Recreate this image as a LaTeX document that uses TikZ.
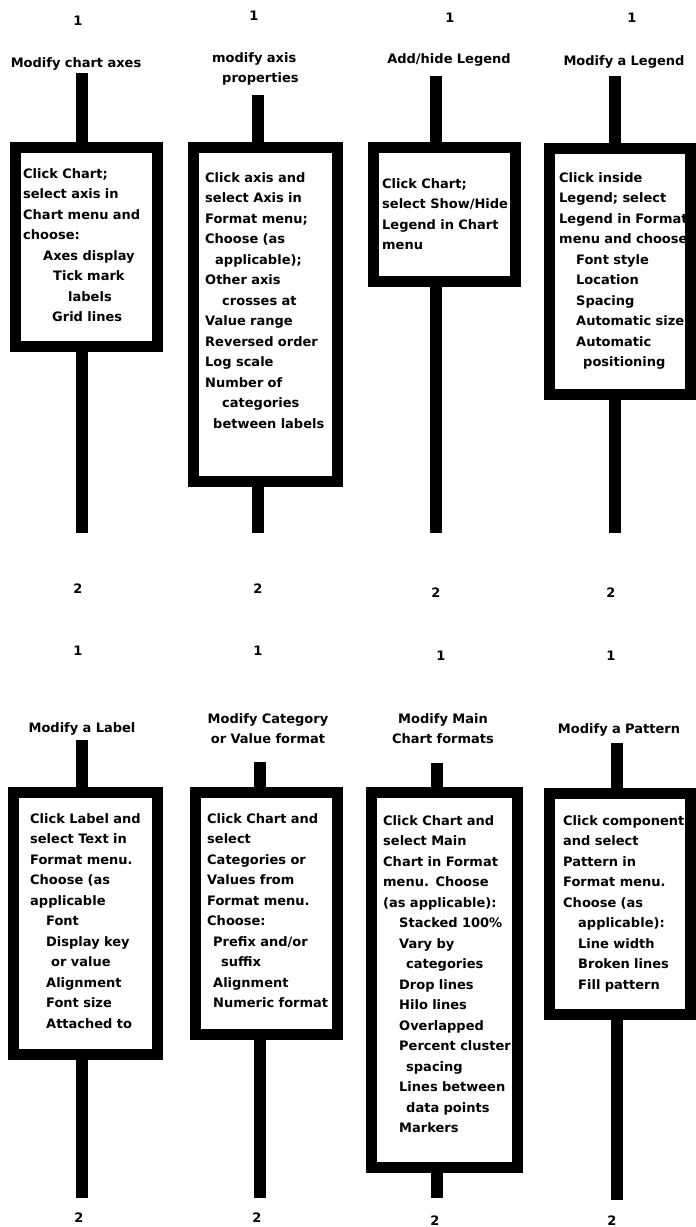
\documentclass[tikz,border=0pt]{standalone}
\usepackage{fontspec}
\setmainfont{DejaVu Sans}
\begin{document}
\begin{tikzpicture}[x=1pt,y=-1pt,
  frame/.style={draw=black, line width=11pt, fill=white, inner sep=0pt},
  stem/.style={line width=12pt, line cap=butt},
  body/.style={anchor=base west, inner sep=0pt, text width=170pt, align=left, font=\bfseries\fontsize{13}{20.5}\selectfont},
  title/.style={anchor=base, inner sep=0pt, text width=180pt, align=center, font=\bfseries\fontsize{13}{20.5}\selectfont},
  titleL/.style={anchor=base west, inner sep=0pt, text width=180pt, align=left, font=\bfseries\fontsize{13}{20.5}\selectfont},
  num/.style={anchor=base, inner sep=0pt, font=\bfseries\fontsize{13}{15}\selectfont}]
\useasboundingbox[fill=white] (0,0) rectangle (696,1227);

% ---------- stem end coordinates ----------
\coordinate (s1t) at (82,73);   \coordinate (s1b) at (82,533);
\coordinate (s2t) at (258,95);  \coordinate (s2b) at (258,533);
\coordinate (s3t) at (436,76);  \coordinate (s3b) at (436,533);
\coordinate (s4t) at (615,76);  \coordinate (s4b) at (615,533);
\coordinate (s5t) at (82,740);  \coordinate (s5b) at (82,1198);
\coordinate (s6t) at (260,762); \coordinate (s6b) at (260,1198);
\coordinate (s7t) at (437,763); \coordinate (s7b) at (437,1198);
\coordinate (s8t) at (617,743); \coordinate (s8b) at (617,1200);

% ---------- boxes ----------
\node[frame, minimum width=142pt, minimum height=199pt] (b1) at (86.5,247) {};
\node[frame, minimum width=144pt, minimum height=334pt] (b2) at (265.5,314.5) {};
\node[frame, minimum width=142pt, minimum height=134pt] (b3) at (444.5,214.5) {};
\node[frame, minimum width=141pt, minimum height=246pt] (b4) at (620,271.5) {};
\node[frame, minimum width=144pt, minimum height=262pt] (b5) at (85.5,923.5) {};
\node[frame, minimum width=142pt, minimum height=242pt] (b6) at (266.5,913.5) {};
\node[frame, minimum width=146pt, minimum height=375pt] (b7) at (444.5,980) {};
\node[frame, minimum width=141pt, minimum height=221pt] (b8) at (620,904) {};

% ---------- stems ----------
\foreach \i in {1,...,8}{
  \draw[stem] (s\i t) -- (s\i t |- b\i.north);
  \draw[stem] (s\i t |- b\i.south) -- (s\i b);
}

% ---------- numbers ----------
\node[num] (o1) at (78,25) {1};
\node[num] (o2) at (254,20) {1};
\node[num] (o3) at (450,22) {1};
\node[num] (o4) at (632,22) {1};
\node[num] (w1) at (78,593) {2};
\node[num] (w2) at (258,593) {2};
\node[num] (w3) at (436,597) {2};
\node[num] (w4) at (611,597) {2};
\node[num] (o5) at (78,655) {1};
\node[num] (o6) at (258,655) {1};
\node[num] (o7) at (441,660) {1};
\node[num] (o8) at (611,660) {1};
\node[num] (w5) at (79,1222) {2};
\node[num] (w6) at (257,1222) {2};
\node[num] (w7) at (435,1225) {2};
\node[num] (w8) at (612,1225) {2};

% ---------- titles ----------
\node[title] (t1) at (76,67) {Modify chart axes};
\node[titleL] (t2) at (212,62) {modify axis\\\hspace*{10pt}properties};
\node[title] (t3) at (449,63) {Add/hide Legend};
\node[title] (t4) at (624,65) {Modify a Legend};
\node[title] (t5) at (82,732) {Modify a Label};
\node[title] (t6) at (268,723) {Modify Category\\or Value format};
\node[title] (t7) at (443,723) {Modify Main\\Chart formats};
\node[title] (t8) at (619,733) {Modify a Pattern};

% ---------- box texts ----------
\node[body] (x1) at (23,178) {Click Chart;\\select axis in\\Chart menu and\\choose:\\
\hspace*{20pt}Axes display\\\hspace*{30pt}Tick mark\\\hspace*{45pt}labels\\\hspace*{29pt}Grid lines};

\node[body] (x2) at (205,182) {Click axis and\\select Axis in\\Format menu;\\Choose (as\\
\hspace*{10pt}applicable);\\Other axis\\\hspace*{17pt}crosses at\\Value range\\Reversed order\\Log scale\\Number of\\
\hspace*{17pt}categories\\\hspace*{8pt}between labels};

\node[body] (x3) at (382,188) {Click Chart;\\select Show/Hide\\Legend in Chart\\menu};

\node[body] (x4) at (559,182) {Click inside\\Legend; select\\Legend in Format\\menu and choose:\\
\hspace*{17pt}Font style\\\hspace*{17pt}Location\\\hspace*{17pt}Spacing\\\hspace*{17pt}Automatic size\\
\hspace*{17pt}Automatic\\\hspace*{24pt}positioning};

\node[body] (x5) at (30,823) {Click Label and\\select Text in\\Format menu.\\Choose (as\\applicable\\
\hspace*{16pt}Font\\\hspace*{16pt}Display key\\\hspace*{21pt}or value\\\hspace*{16pt}Alignment\\
\hspace*{16pt}Font size\\\hspace*{16pt}Attached to};

\node[body] (x6) at (207,823) {Click Chart and\\select\\Categories or\\Values from\\Format menu.\\Choose:\\
\hspace*{6pt}Prefix and/or\\\hspace*{14pt}suffix\\\hspace*{6pt}Alignment\\\hspace*{6pt}Numeric format};

\node[body] (x7) at (383,825) {Click Chart and\\select Main\\Chart in Format\\menu. Choose\\(as applicable):\\
\hspace*{16pt}Stacked 100\%\\\hspace*{16pt}Vary by\\\hspace*{23pt}categories\\\hspace*{16pt}Drop lines\\
\hspace*{16pt}Hilo lines\\\hspace*{16pt}Overlapped\\\hspace*{16pt}Percent cluster\\\hspace*{23pt}spacing\\
\hspace*{16pt}Lines between\\\hspace*{23pt}data points\\\hspace*{16pt}Markers};

\node[body] (x8) at (563,825) {Click component\\and select\\Pattern in\\Format menu.\\Choose (as\\
\hspace*{15pt}applicable):\\\hspace*{15pt}Line width\\\hspace*{15pt}Broken lines\\\hspace*{15pt}Fill pattern};
\end{tikzpicture}
\end{document}
